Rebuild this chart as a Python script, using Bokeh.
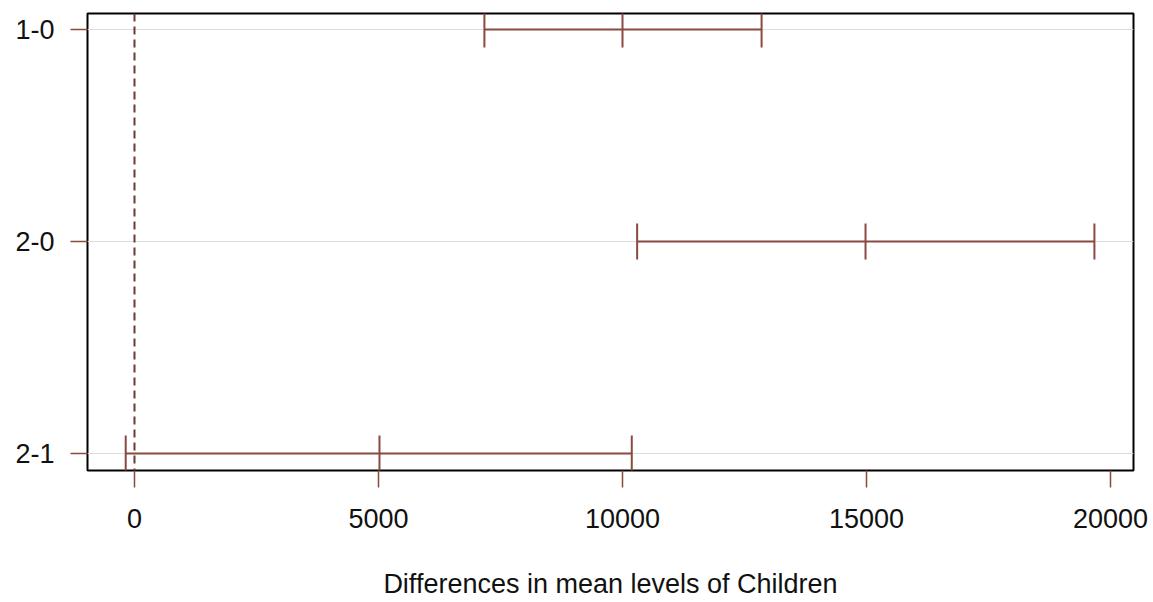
from bokeh.plotting import figure
from bokeh.models import FixedTicker, Range1d, Span
from bokeh.embed import file_html
from bokeh.resources import INLINE

comparisons = ["1-0", "2-0", "2-1"]
positions = [3, 2, 1]
diff = [10000, 14980, 5020]
lwr = [7170, 10300, -180]
upr = [12850, 19670, 10190]
x_ticks = [0, 5000, 10000, 15000, 20000]

cap = 0.085
col = "#8a4a40"
font = "Liberation Sans"

p = figure(width=1153, height=602, output_backend="svg", toolbar_location=None,
           x_range=Range1d(-963, 20471), y_range=Range1d(0.92, 3.075),
           min_border_left=87, min_border_right=20, min_border_top=13, min_border_bottom=132)

p.outline_line_color = "black"
p.outline_line_width = 2
p.background_fill_color = "white"
p.border_fill_color = "white"

# zero reference line
p.add_layout(Span(location=0, dimension="height", line_color="#6a3a34", line_width=2, line_dash="8 5"))

# intervals
p.segment(x0=lwr, x1=upr, y0=positions, y1=positions, line_color=col, line_width=2)
for xs in (lwr, diff, upr):
    p.segment(x0=xs, x1=xs, y0=[y - cap for y in positions], y1=[y + cap for y in positions],
              line_color=col, line_width=2)

# axes
p.xaxis.ticker = FixedTicker(ticks=x_ticks)
p.yaxis.ticker = FixedTicker(ticks=positions)
p.yaxis.major_label_overrides = {pos: lab for pos, lab in zip(positions, comparisons)}
for ax in (p.xaxis[0], p.yaxis[0]):
    ax.axis_line_color = None
    ax.major_tick_out = 17
    ax.major_tick_in = 0
    ax.minor_tick_line_color = None
    ax.major_tick_line_color = col
    ax.major_tick_line_width = 1.5
    ax.major_label_text_font = font
    ax.major_label_text_font_size = "27px"
    ax.major_label_text_color = "#111111"
p.xaxis.major_label_standoff = 21
p.yaxis.major_label_standoff = 16
p.xaxis.axis_label = "Differences in mean levels of Children"
p.xaxis.axis_label_text_font = font
p.xaxis.axis_label_text_font_size = "27px"
p.xaxis.axis_label_text_font_style = "normal"
p.xaxis.axis_label_text_color = "#111111"
p.xaxis.axis_label_standoff = 38

p.xgrid.grid_line_color = None
p.ygrid.ticker = FixedTicker(ticks=positions)
p.ygrid.grid_line_color = "#dddddd"
p.ygrid.grid_line_width = 1

open("out.html", "w").write(file_html(p, INLINE))
